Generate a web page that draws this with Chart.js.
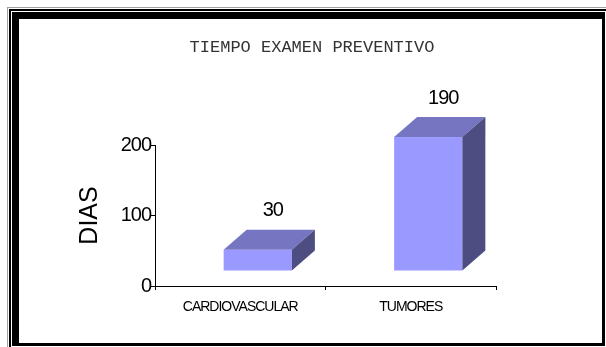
<!DOCTYPE html>
<html>
<head>
<meta charset="utf-8">
<script src="https://cdn.jsdelivr.net/npm/chart.js@4/dist/chart.umd.min.js"></script>
<style>
  html, body { margin: 0; padding: 0; background: #fff; }
  #c { display: block; }
</style>
</head>
<body>
<canvas id="c" width="606" height="347"></canvas>
<script>
// ---- data ----
const categories = ["CARDIOVASCULAR", "TUMORES"];
const dias = [30, 190];
const yTicks = [0, 100, 200];
const chartTitle = "TIEMPO EXAMEN PREVENTIVO";
const yTitle = "DIAS";

// ---- 3D look ----
const SHIFT_X = 17.5, SHIFT_Y = -15;   // front face offset from the axis plane
const DEPTH_X = 23, DEPTH_Y = -20;     // depth of the box
const FRONT = "#9999FF", TOPC = "#7575C2", SIDE = "#4D4D82";

function tighten(scale, spacing) {
  if (scale._tightWrapped) return;
  const orig = scale.drawLabels;
  scale.drawLabels = function (area) {
    const ctx = this.ctx;
    ctx.save();
    ctx.letterSpacing = spacing;
    orig.call(this, area);
    ctx.restore();
  };
  scale._tightWrapped = true;
}

const framePlugin = {
  id: "frame",
  beforeDraw(chart) {
    const ctx = chart.ctx;
    ctx.save();
    ctx.fillStyle = "#ffffff";
    ctx.fillRect(0, 0, 606, 347);
    ctx.fillStyle = "#a0a0a0";
    ctx.fillRect(7, 7, 599, 1);
    ctx.fillRect(7, 7, 1, 340);
    ctx.fillStyle = "#000000";
    ctx.fillRect(9, 9, 597, 2);
    ctx.fillRect(9, 9, 2, 338);
    ctx.fillRect(12, 12, 593, 7);
    ctx.fillRect(12, 12, 7, 334);
    ctx.fillRect(602, 12, 3, 334);
    ctx.fillRect(12, 343, 593, 3);
    // main title
    ctx.fillStyle = "#333333";
    ctx.font = "17px 'Liberation Mono', 'Courier New', monospace";
    ctx.textAlign = "center";
    ctx.textBaseline = "middle";
    ctx.fillText(chartTitle, 312, 47);
    ctx.restore();
  },
  afterLayout(chart) {
    tighten(chart.scales.x, "-1px");
    tighten(chart.scales.y, "-1px");
  }
};

const bars3dPlugin = {
  id: "bars3d",
  afterDatasetsDraw(chart) {
    const ctx = chart.ctx;
    const meta = chart.getDatasetMeta(0);
    ctx.save();
    meta.data.forEach((bar, i) => {
      const p = bar.getProps(["x", "y", "base", "width"], true);
      const left = p.x - p.width / 2 + SHIFT_X;
      const right = left + p.width;
      const top = p.y + SHIFT_Y;
      const bottom = p.base + SHIFT_Y;
      // front
      ctx.fillStyle = FRONT;
      ctx.fillRect(left, top, right - left, bottom - top);
      // top face
      ctx.fillStyle = TOPC;
      ctx.beginPath();
      ctx.moveTo(left, top);
      ctx.lineTo(left + DEPTH_X, top + DEPTH_Y);
      ctx.lineTo(right + DEPTH_X, top + DEPTH_Y);
      ctx.lineTo(right, top);
      ctx.closePath();
      ctx.fill();
      // side face
      ctx.fillStyle = SIDE;
      ctx.beginPath();
      ctx.moveTo(right, top);
      ctx.lineTo(right + DEPTH_X, top + DEPTH_Y);
      ctx.lineTo(right + DEPTH_X, bottom + DEPTH_Y);
      ctx.lineTo(right, bottom);
      ctx.closePath();
      ctx.fill();
      // value label
      ctx.fillStyle = "#000";
      ctx.font = "20px 'Liberation Sans', Arial, sans-serif";
      ctx.letterSpacing = "-1px";
      ctx.textAlign = "center";
      ctx.textBaseline = "middle";
      ctx.fillText(String(dias[i]), left + p.width / 2 + 15, top + DEPTH_Y - 19);
    });
    ctx.restore();
  }
};

new Chart(document.getElementById("c"), {
  type: "bar",
  data: {
    labels: categories,
    datasets: [{
      data: dias,
      backgroundColor: "rgba(0,0,0,0)",
      borderWidth: 0,
      barPercentage: 0.4,
      categoryPercentage: 1.0
    }]
  },
  options: {
    responsive: false,
    animation: false,
    devicePixelRatio: 1,
    layout: { padding: { left: 20, right: 110, top: 145, bottom: 21 } },
    plugins: {
      legend: { display: false },
      title: { display: false },
      tooltip: { enabled: false }
    },
    scales: {
      x: {
        afterFit: (s) => { s.height = 40; },
        grid: { display: true, drawOnChartArea: false, drawTicks: true, tickLength: 4, color: "#000", offset: true },
        border: { display: true, color: "#000", width: 1 },
        ticks: { color: "#000", font: { family: "'Liberation Sans', Arial, sans-serif", size: 14 }, padding: 9, maxRotation: 0 }
      },
      y: {
        min: 0,
        max: 200,
        afterFit: (s) => { s.width = 135; },
        afterBuildTicks: (s) => { s.ticks = yTicks.map(v => ({ value: v })); },
        grid: { display: true, drawOnChartArea: false, drawTicks: true, tickLength: 4, color: "#000" },
        border: { display: true, color: "#000", width: 1 },
        ticks: { color: "#000", font: { family: "'Liberation Sans', Arial, sans-serif", size: 20 }, padding: 0 },
        title: {
          display: true,
          text: yTitle,
          color: "#000",
          font: { family: "'Liberation Sans', Arial, sans-serif", size: 25 },
          padding: { top: 55, bottom: 0 }
        }
      }
    }
  },
  plugins: [framePlugin, bars3dPlugin]
});
</script>
</body>
</html>
